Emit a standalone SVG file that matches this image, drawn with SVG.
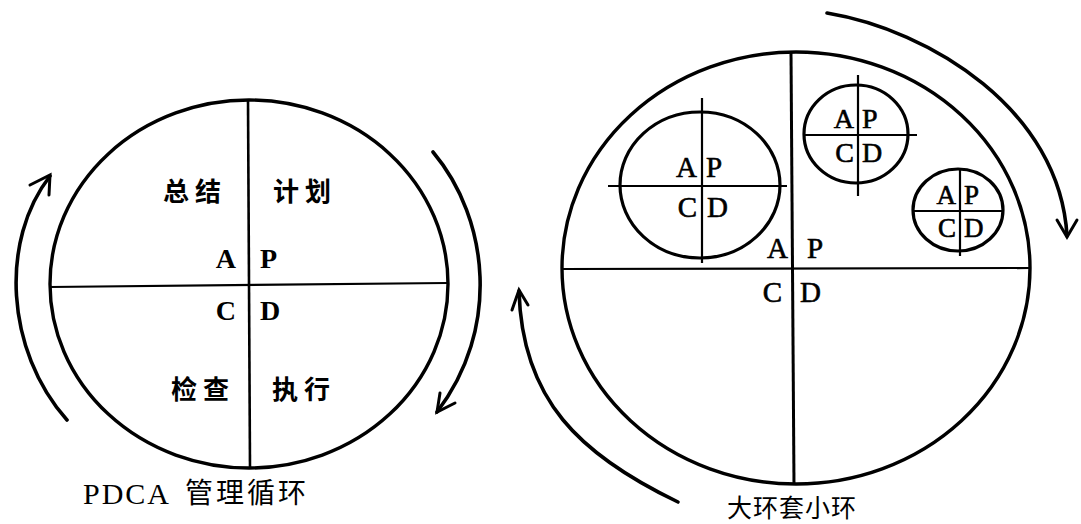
<svg xmlns="http://www.w3.org/2000/svg" width="1081" height="524" viewBox="0 0 1081 524">
<style>
.ring{fill:none;stroke:#000;stroke-width:3.4}
.sring{fill:none;stroke:#000;stroke-width:3.2}
.axis{stroke:#000;stroke-width:2.2;fill:none}
.arc{fill:none;stroke:#000;stroke-width:3.6;stroke-linecap:round}
.head{fill:none;stroke:#000;stroke-width:3;stroke-linecap:round;stroke-linejoin:miter}
.lt{font-family:"Liberation Serif","Noto Sans CJK SC",serif;fill:#000}
.cj{font-family:"Noto Sans CJK SC","Liberation Serif",sans-serif;fill:#000}
.bold{font-weight:bold}
.med{stroke:#000;stroke-width:0.6}
</style>
<rect width="1081" height="524" fill="#fff"/>

<!-- Left diagram: PDCA cycle -->
<g id="pdca-circle">
  <ellipse class="ring" cx="249" cy="284" rx="199" ry="184"/>
  <line class="axis" x1="248" y1="100" x2="250" y2="468" style="stroke-width:2.6"/>
  <line class="axis" x1="50" y1="287" x2="447" y2="283"/>
  <text class="cj bold" x="163" y="201" font-size="26" letter-spacing="6">总结</text>
  <text class="cj bold" x="273" y="201" font-size="26" letter-spacing="6">计划</text>
  <text class="cj bold" x="171" y="399" font-size="26" letter-spacing="6">检查</text>
  <text class="cj bold" x="272" y="399" font-size="26" letter-spacing="6">执行</text>
  <text class="lt bold" x="236" y="268" font-size="28" text-anchor="end">A</text>
  <text class="lt bold" x="260" y="268" font-size="28">P</text>
  <text class="lt bold" x="236" y="320" font-size="28" text-anchor="end">C</text>
  <text class="lt bold" x="260" y="320" font-size="28">D</text>
</g>
<g id="pdca-caption">
  <text class="lt" x="83" y="504" font-size="30" letter-spacing="2">PDCA</text>
  <text class="cj" x="185" y="503" font-size="28" letter-spacing="3">管理循环</text>
</g>

<!-- Right diagram: big ring containing small rings -->
<g id="big-ring">
  <ellipse class="ring" cx="796" cy="268" rx="234" ry="216"/>
  <line class="axis" x1="791" y1="52" x2="794" y2="485" style="stroke-width:3"/>
  <line class="axis" x1="563" y1="269" x2="1029" y2="268"/>
  <text class="lt med" x="788" y="258" font-size="29" text-anchor="end">A</text>
  <text class="lt med" x="807" y="258" font-size="29">P</text>
  <text class="lt med" x="782" y="302" font-size="29" text-anchor="end">C</text>
  <text class="lt med" x="800" y="302" font-size="29">D</text>
</g>
<g id="small-ring-1">
  <ellipse class="sring" cx="700" cy="185" rx="80" ry="73"/>
  <line class="axis" x1="608" y1="186" x2="787" y2="186"/>
  <line class="axis" x1="702" y1="98" x2="702" y2="263"/>
  <text class="lt med" x="697" y="177" font-size="29" text-anchor="end">A</text>
  <text class="lt med" x="706" y="177" font-size="29">P</text>
  <text class="lt med" x="697" y="217" font-size="29" text-anchor="end">C</text>
  <text class="lt med" x="707" y="217" font-size="29">D</text>
</g>
<g id="small-ring-2">
  <ellipse class="sring" cx="856" cy="134" rx="52" ry="49"/>
  <line class="axis" x1="803" y1="135" x2="917" y2="135"/>
  <line class="axis" x1="858" y1="75" x2="858" y2="196"/>
  <text class="lt med" x="854" y="128" font-size="28" text-anchor="end">A</text>
  <text class="lt med" x="862" y="128" font-size="28">P</text>
  <text class="lt med" x="854" y="162" font-size="28" text-anchor="end">C</text>
  <text class="lt med" x="862" y="162" font-size="28">D</text>
</g>
<g id="small-ring-3">
  <ellipse class="sring" cx="958" cy="210" rx="45" ry="41"/>
  <line class="axis" x1="913" y1="211" x2="1002" y2="211"/>
  <line class="axis" x1="960" y1="168" x2="960" y2="256"/>
  <text class="lt med" x="956" y="204" font-size="27" text-anchor="end">A</text>
  <text class="lt med" x="964" y="204" font-size="27">P</text>
  <text class="lt med" x="956" y="237" font-size="27" text-anchor="end">C</text>
  <text class="lt med" x="964" y="237" font-size="27">D</text>
</g>
<g id="big-ring-caption">
  <text class="cj" x="727" y="517" font-size="25" letter-spacing="1">大环套小环</text>
</g>

<!-- Connectors: rotation arrows -->
<g id="connectors">
  <path class="arc" d="M67,420 C5,350 0,240 50,176"/>
  <polyline class="head" points="30,185 50,175 49,195"/>
  <path class="arc" d="M433,152 C490,220 500,330 437,412"/>
  <polyline class="head" points="440,393 437,412 455,403"/>
  <path class="arc" d="M827,13 C930,30 1060,110 1067,236"/>
  <polyline class="head" points="1057,220 1067,237 1077,220"/>
  <path class="arc" d="M678,502 C580,455 522,400 519,291"/>
  <polyline class="head" points="512,310 519,290 528,305"/>
</g>
</svg>
